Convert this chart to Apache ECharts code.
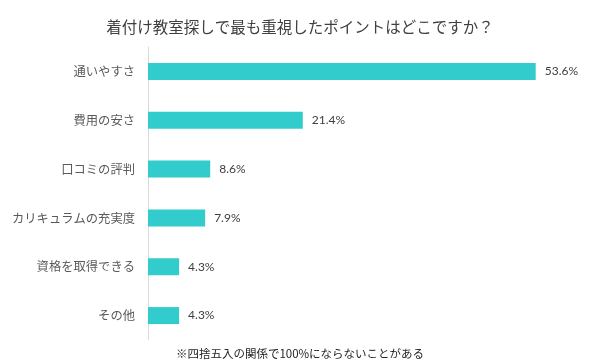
<!DOCTYPE html>
<html><head><meta charset="utf-8">
<script src="https://cdn.jsdelivr.net/npm/echarts@6/dist/echarts.min.js"></script>
<style>html,body{margin:0;padding:0;background:#fff}#c{width:600px;height:363px}</style>
</head><body><div id="c"></div>
<script>
const titleText = '着付け教室探しで最も重視したポイントはどこですか？';
const noteText = '※四捨五入の関係で100%にならないことがある';
const categories = ['通いやすさ','費用の安さ','口コミの評判','カリキュラムの充実度','資格を取得できる','その他'];
const values = [53.6, 21.4, 8.6, 7.9, 4.3, 4.3];

const chart = echarts.init(document.getElementById('c'), null, {renderer:'canvas'});
chart.setOption({
  animation:false,
  backgroundColor:'#ffffff',
  title:[
    {text:titleText, left:'center', top:14, textStyle:{fontFamily:'Noto Sans CJK JP', fontSize:15.5, fontWeight:'normal', color:'#404040'}},
    {text:noteText, left:'center', top:343, textStyle:{fontFamily:'Noto Sans CJK JP', fontSize:11.5, fontWeight:'normal', color:'#262626'}}
  ],
  grid:{left:148, top:47, width:434, height:293, containLabel:false},
  xAxis:{type:'value', min:0, max:60, show:false},
  yAxis:{type:'category', data:categories, inverse:true,
    axisLine:{show:true, lineStyle:{color:'#d9d9d9', width:1}},
    axisTick:{show:false},
    axisLabel:{margin:13, fontFamily:'Noto Sans CJK JP', fontSize:12.3, color:'#595959'}
  },
  series:[{
    type:'bar', data:values, barWidth:17,
    itemStyle:{color:'#33CCCC'},
    label:{show:true, position:'right', distance:9, formatter:p=>p.value.toFixed(1)+'%',
      fontFamily:'Lato', fontSize:12, color:'#404040'}
  }]
});
</script></body></html>
